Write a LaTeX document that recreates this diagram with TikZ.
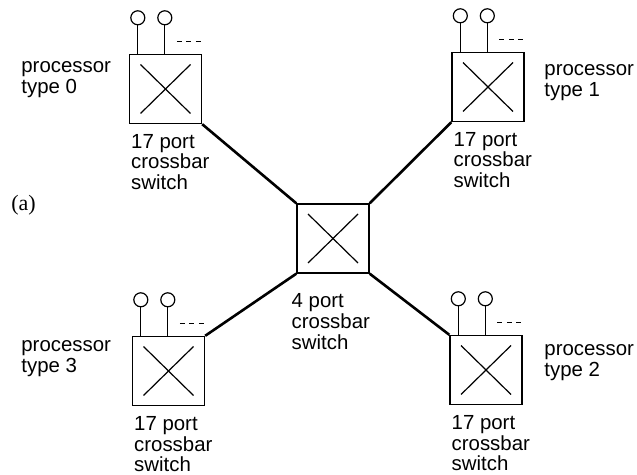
\documentclass[tikz,border=0pt]{standalone}
\usepackage{fontspec}
\setmainfont{Liberation Sans}
\newfontfamily\serifa{Liberation Serif}
\usepackage{tikz}
\usetikzlibrary{calc}

\tikzset{
  xbar/.style={draw,line width=0.7pt,rectangle,inner sep=0pt,
    minimum width=36pt,minimum height=34.5pt,
    path picture={
      \draw[line width=0.6pt] ([shift={(5.5pt,-5pt)}]path picture bounding box.north west)
        -- ([shift={(-5.5pt,5pt)}]path picture bounding box.south east);
      \draw[line width=0.6pt] ([shift={(-5.5pt,-5pt)}]path picture bounding box.north east)
        -- ([shift={(5.5pt,5pt)}]path picture bounding box.south west);
    }},
  lbl/.style={align=left,inner sep=0pt,font=\fontsize{10.2}{10.4}\selectfont},
  link/.style={line width=1.3pt}
}

\begin{document}
\begin{tikzpicture}[x=0.5pt,y=-0.5pt]
  \useasboundingbox (0,0) rectangle (637,475);
  % crossbar switches
  \node[xbar] (sw0) at (165.5,89) {};
  \node[xbar] (sw1) at (488,87) {};
  \node[xbar] (sw2) at (486,370) {};
  \node[xbar] (sw3) at (168.5,371) {};
  \node[xbar] (hub) at (333,238.5) {};
  % processors hanging on top of each 17 port switch
  \foreach \s in {sw0,sw1,sw2,sw3} {
    \foreach \dx in {9,36} {
      \draw[line width=0.6pt] ($(\s.north west)+(\dx,0)$) -- ++(0,-29);
      \draw[line width=0.6pt] ($(\s.north west)+(\dx,-36)$) circle[radius=3.5pt];
    }
    \draw[line width=0.6pt,dash pattern=on 2.5pt off 2.25pt]
      ($(\s.north west)+(48,-12)$) -- ($(\s.north east)+(0,-12)$);
    \node[lbl,anchor=base west] (\s-txt) at ($(\s.south west)+(2,65.6)$) {17 port\\crossbar\\switch};
  }
  \node[lbl,anchor=base west] (hub-txt) at ($(hub.south west)+(-5,75.6)$) {4 port\\crossbar\\switch};
  % processor types
  \node[lbl,anchor=base west] (t0) at (21,93.3) {processor\\type 0};
  \node[lbl,anchor=base west] (t1) at (544,96.8) {processor\\type 1};
  \node[lbl,anchor=base west] (t2) at (544,376.3) {processor\\type 2};
  \node[lbl,anchor=base west] (t3) at (21,372.8) {processor\\type 3};
  % links to the 4 port switch
  \draw[link] (sw0.south east) -- (hub.north west);
  \draw[link] (sw1.south west) -- (hub.north east);
  \draw[link] (sw2.north west) -- (hub.south east);
  \draw[link] (sw3.north east) -- (hub.south west);
  \node[anchor=base west,inner sep=0pt,font=\serifa\fontsize{11}{12}\selectfont] (tag) at (11,211) {(a)};
\end{tikzpicture}
\end{document}
